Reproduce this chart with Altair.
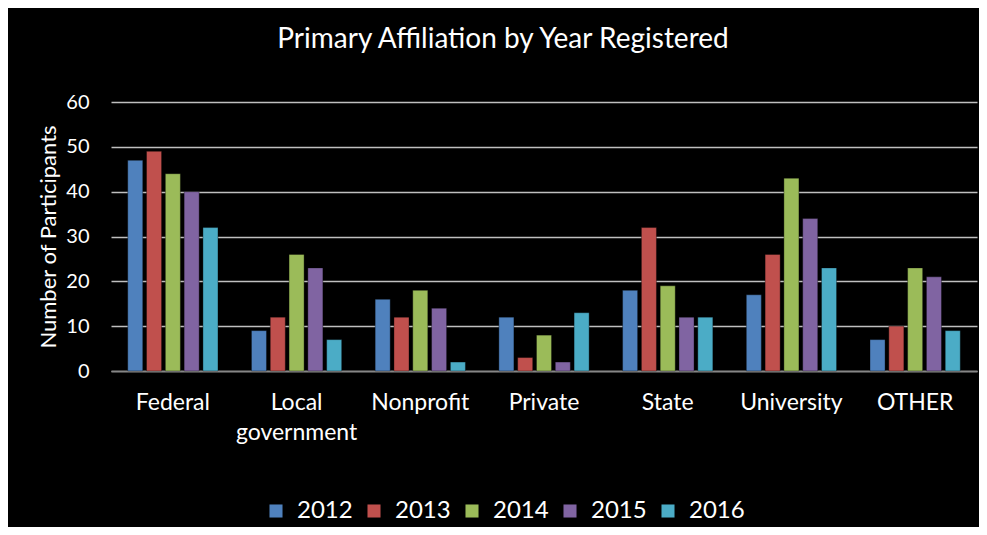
import altair as alt
import pandas as pd

categories = ["Federal", "Local government", "Nonprofit", "Private", "State", "University", "OTHER"]
years = ["2012", "2013", "2014", "2015", "2016"]
v2012 = [47, 9, 16, 12, 18, 17, 7]
v2013 = [49, 12, 12, 3, 32, 26, 10]
v2014 = [44, 26, 18, 8, 19, 43, 23]
v2015 = [40, 23, 14, 2, 12, 34, 21]
v2016 = [32, 7, 2, 13, 12, 23, 9]
colors = ["#4F81BD", "#C0504D", "#9BBB59", "#8064A2", "#4BACC6"]
y_ticks = [0, 10, 20, 30, 40, 50, 60]

series = [v2012, v2013, v2014, v2015, v2016]
rows = []
for year, vals in zip(years, series):
    for c, v in zip(categories, vals):
        rows.append({"Affiliation": c, "Year": year, "Participants": v})
df = pd.DataFrame(rows)

FONT = "Lato"

chart = alt.Chart(df).mark_bar(
    stroke="#000000", strokeOpacity=0.35, strokeWidth=1
).encode(
    x=alt.X(
        "Affiliation:N", sort=categories,
        scale=alt.Scale(paddingInner=0.24, paddingOuter=0.12),
        axis=alt.Axis(
            title=None, labelAngle=0, ticks=False,
            labelExpr="datum.label == 'Local government' ? ['Local', 'government'] : datum.label",
            labelColor="white", labelFont=FONT, labelFontSize=23,
            labelBaseline="top", labelPadding=20, labelLineHeight=30,
            domainColor="#868686", domainWidth=1.5,
        ),
    ),
    xOffset=alt.XOffset("Year:N", sort=years,
                        scale=alt.Scale(paddingInner=0.2, paddingOuter=0.1)),
    y=alt.Y(
        "Participants:Q",
        scale=alt.Scale(domain=[0, 60], nice=False),
        axis=alt.Axis(
            values=y_ticks, title="Number of Participants",
            grid=True, gridColor="#bfbfbf", gridWidth=1.5,
            domain=False, ticks=False,
            labelColor="white", labelFont=FONT, labelFontSize=20, labelPadding=22,
            titleColor="white", titleFont=FONT, titleFontSize=22, titleFontWeight="normal",
            titleX=-63, titleY=134.5, titleAngle=270, titleBaseline="middle", titleAlign="center",
        ),
    ),
    color=alt.Color(
        "Year:N", sort=years,
        scale=alt.Scale(domain=years, range=colors),
        legend=alt.Legend(
            title=None, orient="none", legendX=153, legendY=397,
            direction="horizontal", symbolType="square", symbolSize=170,
            symbolStrokeWidth=0, symbolOpacity=1,
            labelColor="white", labelFont=FONT, labelFontSize=24,
            labelOffset=9, columnPadding=9,
        ),
    ),
).properties(
    width=866, height=269,
    background="black",
    padding={"left": 103, "top": 94, "right": 2, "bottom": 156},
    autosize=alt.AutoSizeParams(type="none"),
    title=alt.TitleParams(
        "Primary Affiliation by Year Registered",
        color="white", font=FONT, fontSize=28, fontWeight="normal",
        anchor="middle", dx=-41, baseline="alphabetic", offset=16,
    ),
).configure_view(stroke=None)

chart.save("out.html", embed_options={"renderer": "svg", "actions": False})
